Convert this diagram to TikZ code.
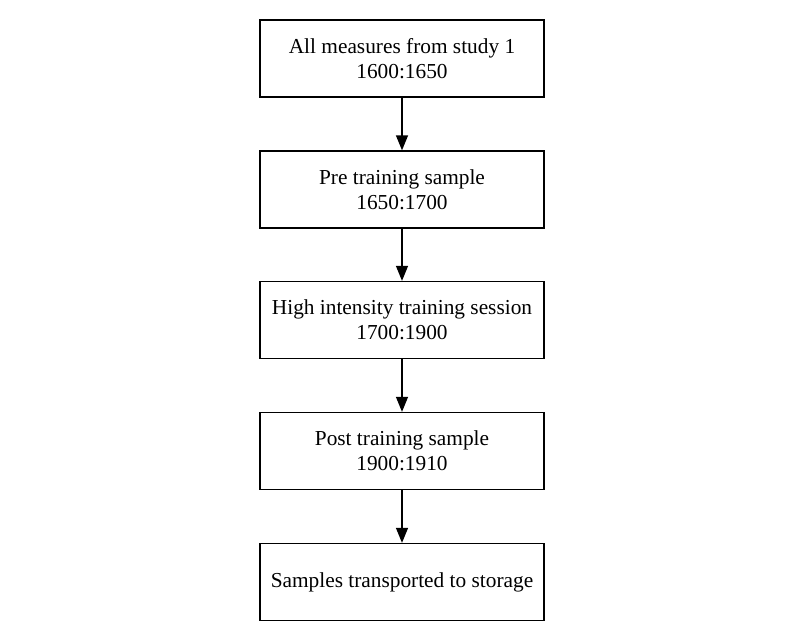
\documentclass[tikz,border=0pt]{standalone}
\usepackage{fontspec}
\setmainfont{Liberation Serif}
\usetikzlibrary{arrows.meta}
\begin{document}
\begin{tikzpicture}[x=0.75pt,y=-0.75pt,
  stepbox/.style={draw, line width=1pt, minimum width=284*0.75pt, minimum height=77*0.75pt, inner sep=0pt, align=center, font=\fontsize{16}{18.7}\selectfont},
  flow/.style={draw, line width=1pt, -{Triangle[length=15*0.75pt, width=12*0.75pt]}}]
\useasboundingbox[fill=white] (0,0) rectangle (803,639);
\node[stepbox] (a) at (402,58.5) {All measures from study 1\\1600:1650};
\node[stepbox] (b) at (402,189.5) {Pre training sample\\1650:1700};
\node[stepbox] (c) at (402,320) {High intensity training session\\1700:1900};
\node[stepbox] (d) at (402,451) {Post training sample\\1900:1910};
\node[stepbox] (e) at (402,582) {Samples transported to storage};
\draw[flow] (a) -- (b);
\draw[flow] (b) -- (c);
\draw[flow] (c) -- (d);
\draw[flow] (d) -- (e);
\end{tikzpicture}
\end{document}
